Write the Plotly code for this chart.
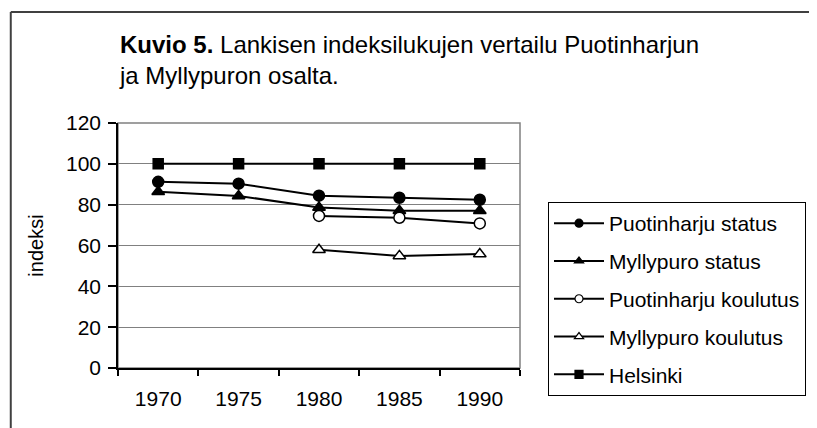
import plotly.graph_objects as go

years = ["1970", "1975", "1980", "1985", "1990"]
puotinharju_status = [91.2, 90.3, 84.4, 83.4, 82.4]
myllypuro_status = [86.3, 84.3, 78.6, 77.0, 77.0]
puotinharju_koulutus = [None, None, 74.5, 73.6, 70.8]
myllypuro_koulutus = [None, None, 57.9, 54.9, 55.8]
helsinki = [100, 100, 100, 100, 100]

series_names = ["Puotinharju status", "Myllypuro status", "Puotinharju koulutus",
                "Myllypuro koulutus", "Helsinki"]
series_values = [puotinharju_status, myllypuro_status, puotinharju_koulutus,
                 myllypuro_koulutus, helsinki]
series_symbols = ["circle", "triangle-up", "circle", "triangle-up", "square"]
series_fills = ["black", "black", "white", "white", "black"]

FONT = "Liberation Sans, Arial, sans-serif"
# page body has an 8px margin, so the figure is drawn 8px in from the window corner
OFF = 8
W, H = 817 - OFF, 428 - OFF
L, R, T, B = 118 - OFF, 817 - 521, 123 - OFF, 60
pw, ph = W - L - R, H - T - B

fig = go.Figure()
for name, vals, sym, fill in zip(series_names, series_values, series_symbols, series_fills):
    fig.add_trace(go.Scatter(
        x=years, y=vals, name=name, mode="lines+markers",
        legendgroup=name, showlegend=False,
        line=dict(color="black", width=2),
        marker=dict(symbol=sym, size=11 if sym != "square" else 10, color=fill,
                    line=dict(color="black", width=1.5)),
        connectgaps=False,
    ))
# legend entries (smaller markers, as in the reference legend)
for name, sym, fill in zip(series_names, series_symbols, series_fills):
    fig.add_trace(go.Scatter(
        x=[None], y=[None], name=name, mode="lines+markers",
        legendgroup=name, showlegend=True,
        line=dict(color="black", width=2),
        marker=dict(symbol=sym, size=8, color=fill,
                    line=dict(color="black", width=1.2)),
    ))


def px_x(x):
    return (x - OFF - L) / pw


def px_y(y):
    return (H - B - (y - OFF)) / ph


shapes = [
    dict(type="rect", xref="paper", yref="paper", x0=0, x1=1, y0=0, y1=1,
         line=dict(color="#808080", width=1.5), layer="below"),
    dict(type="line", xref="paper", yref="paper", x0=px_x(10.5), x1=px_x(830),
         y0=px_y(12), y1=px_y(12), line=dict(color="#404040", width=2)),
    dict(type="line", xref="paper", yref="paper", x0=px_x(10.5), x1=px_x(10.5),
         y0=px_y(12), y1=px_y(440), line=dict(color="#404040", width=2)),
]

annotations = [
    dict(xref="paper", yref="paper", x=px_x(117), y=px_y(29), xanchor="left", yanchor="top",
         text="<b>Kuvio 5.</b> Lankisen indeksilukujen vertailu Puotinharjun<br>ja Myllypuron osalta.",
         showarrow=False, align="left", font=dict(family=FONT, size=24, color="black")),
]

fig.update_layout(
    width=W, height=H,
    margin=dict(l=L, r=R, t=T, b=B),
    paper_bgcolor="white", plot_bgcolor="white",
    font=dict(family=FONT, size=20, color="black"),
    shapes=shapes, annotations=annotations,
    showlegend=True,
    legend=dict(x=px_x(548), y=px_y(202), xanchor="left", yanchor="top",
                bordercolor="black", borderwidth=1, bgcolor="white",
                font=dict(family=FONT, size=21, color="black"),
                tracegroupgap=7.5, itemwidth=50, traceorder="grouped"),
)
fig.update_xaxes(type="category", range=[-0.5, 4.5], tickson="boundaries",
                 ticks="outside", ticklen=6, tickcolor="black", tickwidth=1.5,
                 showline=True, linecolor="black", linewidth=1.5, showgrid=False,
                 tickfont=dict(size=21), ticklabelstandoff=11)
fig.update_yaxes(range=[0, 120], dtick=20, ticks="outside", ticklen=8, tickcolor="black",
                 tickwidth=1.5, showline=True, linecolor="black", linewidth=1.5,
                 showgrid=True, gridcolor="#808080", gridwidth=1, zeroline=False,
                 tickfont=dict(size=21), ticklabelstandoff=3,
                 title=dict(text="indeksi", font=dict(size=20), standoff=17))

fig.write_html("out.html")
